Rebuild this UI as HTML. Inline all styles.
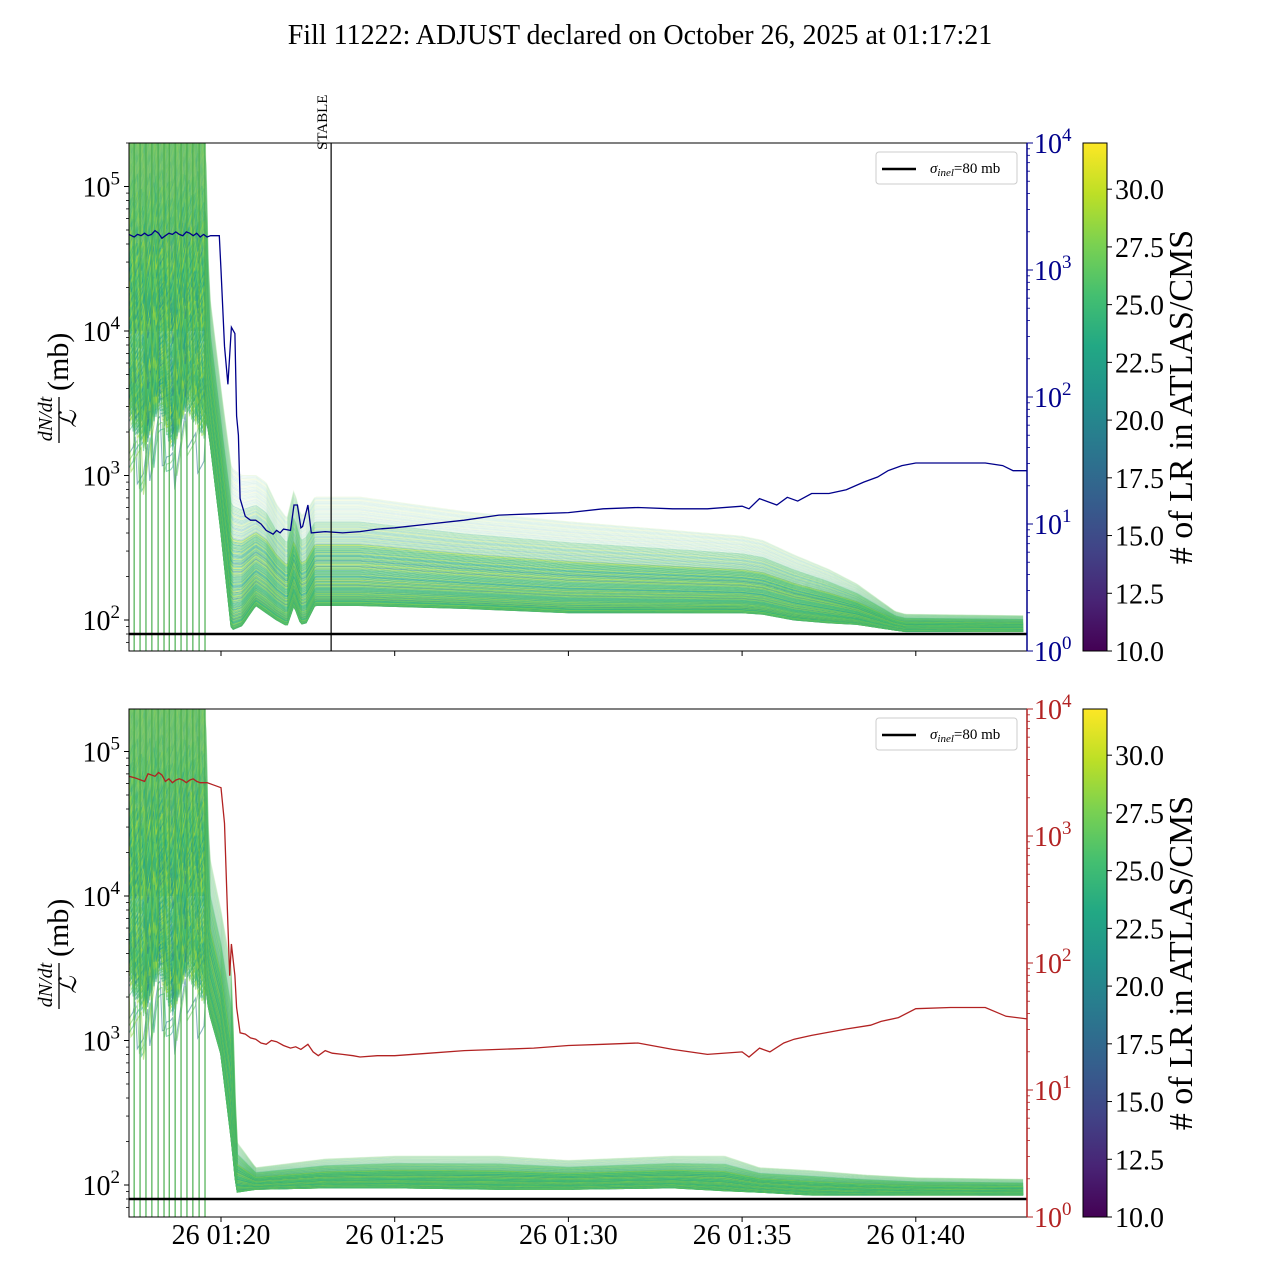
<!DOCTYPE html>
<html><head><meta charset="utf-8">
<style>
html,body{margin:0;padding:0;background:#fff;}
svg{display:block;font-family:"Liberation Serif",serif;}
</style></head>
<body>
<svg id="chart" width="1280" height="1280" viewBox="0 0 1280 1280" xmlns="http://www.w3.org/2000/svg">
<defs>
<linearGradient id="viridis" x1="0" y1="1" x2="0" y2="0">
<stop offset="0" stop-color="#440154"/><stop offset="0.1" stop-color="#482475"/><stop offset="0.2" stop-color="#414487"/><stop offset="0.3" stop-color="#355f8d"/><stop offset="0.4" stop-color="#2a788e"/><stop offset="0.5" stop-color="#21918c"/><stop offset="0.6" stop-color="#22a884"/><stop offset="0.7" stop-color="#44bf70"/><stop offset="0.8" stop-color="#7ad151"/><stop offset="0.9" stop-color="#bddf26"/><stop offset="1" stop-color="#fde725"/>
</linearGradient>
<clipPath id="clipTop"><rect x="129" y="143" width="898" height="508"/></clipPath>
<clipPath id="clipBot"><rect x="129" y="709" width="898" height="508"/></clipPath>
</defs>
<text x="640" y="44" text-anchor="middle" font-size="28">Fill 11222: ADJUST declared on October 26, 2025 at 01:17:21</text>
<g id="layer"></g>
</svg>
<script>
// ---- data (time in minutes relative to 26 01:20) ----
const xTickLabels = ["26 01:20","26 01:25","26 01:30","26 01:35","26 01:40"];
const xTickMinutes = [0,5,10,15,20];
const leftTickExp = [2,3,4,5];
const rightTickExp = [0,1,2,3,4];
const cbarTicks = [10.0,12.5,15.0,17.5,20.0,22.5,25.0,27.5,30.0];
const sigmaInel = 80;
const stableMinute = 3.17;
const fillStartMinute = -2.65;
const fillEndMinute = 23.2;
const earlySpikeMinutes = [-2.5,-2.33,-2.16,-1.99,-1.81,-1.64,-1.49,-1.32,-1.15,-0.98,-0.81,-0.63,-0.46];
// top panel band envelope (log10 mb)
const topBandT  = [-2.65,-2.2,-1.8,-1.4,-1.0,-0.5,-0.45,-0.35,0,0.3,0.6,1.0,1.3,1.6,1.9,2.1,2.3,2.45,2.7,3.0,4.0,7.0,10.0,13.0,15.0,15.6,16.5,17.5,18.3,19.4,19.7,23.0];
const topBandLo = [3.5,3.3,3.6,3.3,3.6,3.4,3.4,3.3,2.6,1.93,1.96,2.1,2.05,2.0,1.96,2.1,1.97,1.98,2.1,2.1,2.1,2.08,2.05,2.05,2.05,2.04,2.0,1.98,1.97,1.93,1.92,1.92];
const topBandHi = [5.4,5.4,5.4,5.4,5.4,5.4,5.4,4.3,3.6,3.05,3.0,3.0,2.95,2.8,2.7,2.9,2.72,2.75,2.85,2.85,2.85,2.75,2.68,2.62,2.58,2.55,2.45,2.35,2.25,2.06,2.04,2.03];
// bottom panel band envelope
const botBandT  = [-2.65,-2.2,-1.8,-1.4,-1.0,-0.5,-0.45,-0.35,0,0.3,0.45,1.0,3.0,5.0,8.0,10.0,13.0,14.5,15.5,17.0,18.5,20.0,23.0];
const botBandLo = [3.5,3.3,3.6,3.3,3.6,3.4,3.4,3.2,2.9,2.3,1.95,1.97,1.98,1.98,1.97,1.97,1.98,1.96,1.95,1.93,1.93,1.93,1.93];
const botBandHi = [5.4,5.4,5.4,5.4,5.4,5.4,5.4,4.3,3.9,3.5,2.3,2.12,2.18,2.2,2.2,2.17,2.2,2.2,2.12,2.1,2.07,2.05,2.04];
// blue line (top, right log axis)
const blueT = [-2.65,-2.5,-2.4,-2.3,-2.2,-2.1,-2.0,-1.9,-1.8,-1.7,-1.6,-1.5,-1.4,-1.3,-1.2,-1.1,-1.0,-0.9,-0.8,-0.7,-0.6,-0.5,-0.4,-0.3,-0.2,-0.05,0.0,0.1,0.2,0.3,0.4,0.45,0.5,0.55,0.7,0.85,1.0,1.15,1.3,1.5,1.6,1.7,1.8,2.0,2.1,2.2,2.3,2.35,2.5,2.6,3.0,3.5,4.0,4.5,5.0,6.0,7.0,8.0,9.0,10.0,11.0,12.0,13.0,14.0,15.0,15.2,15.5,16.0,16.3,16.6,17.0,17.5,18.0,18.5,18.9,19.2,19.6,20.0,21.0,22.0,22.5,22.8,23.2];
const blueV = [3.28,3.26,3.28,3.27,3.29,3.27,3.28,3.31,3.29,3.25,3.27,3.29,3.28,3.30,3.28,3.27,3.30,3.29,3.27,3.29,3.26,3.28,3.26,3.27,3.27,3.27,3.0,2.4,2.1,2.55,2.5,1.85,1.7,1.2,1.06,1.03,1.03,1.0,0.95,0.92,0.95,0.93,0.96,0.95,1.15,1.15,0.97,0.98,1.15,0.93,0.94,0.93,0.94,0.96,0.97,1.0,1.03,1.07,1.08,1.09,1.12,1.13,1.12,1.12,1.14,1.12,1.2,1.15,1.21,1.18,1.24,1.24,1.27,1.33,1.37,1.42,1.46,1.48,1.48,1.48,1.46,1.42,1.42];
// red line (bottom)
const redT = [-2.65,-2.5,-2.4,-2.3,-2.2,-2.1,-2.0,-1.9,-1.8,-1.7,-1.6,-1.5,-1.4,-1.3,-1.2,-1.1,-1.0,-0.9,-0.8,-0.7,-0.6,-0.4,-0.2,0.0,0.1,0.2,0.25,0.3,0.4,0.45,0.55,0.7,0.85,1.0,1.15,1.3,1.45,1.6,1.8,2.0,2.15,2.3,2.5,2.65,2.8,3.0,3.2,3.5,3.8,4.0,4.5,5.0,6.0,7.0,8.0,9.0,10.0,11.0,12.0,13.0,14.0,15.0,15.2,15.5,15.8,16.2,16.5,17.0,18.0,18.7,19.0,19.5,20.0,21.0,22.0,22.6,23.2];
const redV = [3.47,3.46,3.45,3.44,3.43,3.49,3.48,3.47,3.5,3.48,3.43,3.45,3.42,3.44,3.45,3.44,3.42,3.44,3.45,3.43,3.42,3.42,3.4,3.38,3.1,2.3,1.9,2.15,1.9,1.65,1.45,1.44,1.41,1.4,1.37,1.36,1.39,1.38,1.35,1.33,1.34,1.32,1.36,1.30,1.27,1.31,1.29,1.28,1.27,1.26,1.27,1.27,1.29,1.31,1.32,1.33,1.35,1.36,1.37,1.32,1.28,1.30,1.26,1.33,1.30,1.37,1.40,1.43,1.48,1.51,1.54,1.57,1.64,1.65,1.65,1.58,1.56];

// ---- scales ----
const NS='http://www.w3.org/2000/svg';
const layer=document.getElementById('layer');
const X0=221, PXMIN=34.74;
function xs(m){return X0+m*PXMIN;}
const panels=[
 {top:143,bot:651,ref2:620,rc:'#00008b',clip:'clipTop',bT:topBandT,bLo:topBandLo,bHi:topBandHi,lT:blueT,lV:blueV,name:'top'},
 {top:709,bot:1217,ref2:1185,rc:'#b22222',clip:'clipBot',bT:botBandT,bLo:botBandLo,bHi:botBandHi,lT:redT,lV:redV,name:'bottom'}
];
function yl(p,lg){return p.ref2-(lg-2)*144.5;}
function yr(p,lg){return p.bot-lg*127;}
function mk(tag,attrs,parent){const e=document.createElementNS(NS,tag);for(const k in attrs)e.setAttribute(k,attrs[k]);(parent||layer).appendChild(e);return e;}
function interp(T,V,t){if(t<=T[0])return V[0];for(let i=1;i<T.length;i++){if(t<=T[i]){const f=(t-T[i-1])/(T[i]-T[i-1]);return V[i-1]+f*(V[i]-V[i-1]);}}return V[V.length-1];}
const vir=['#440154','#482475','#414487','#355f8d','#2a788e','#21918c','#22a884','#44bf70','#7ad151','#bddf26','#fde725'];
function virColor(f){f=Math.max(0,Math.min(1,f));const i=Math.min(9,Math.floor(f*10));const r=f*10-i;const a=vir[i],b=vir[i+1];const h=s=>[1,3,5].map(k=>parseInt(s.substr(k,2),16));const A=h(a),B=h(b);return 'rgb('+A.map((v,k)=>Math.round(v+(B[k]-v)*r)).join(',')+')';}

panels.forEach((p,pi)=>{
  const g=mk('g',{'clip-path':'url(#'+p.clip+')'});
  
  
  // early dense region fill
  const ef=mk('path',{d:'M129,'+p.top+'L'+xs(-0.45)+','+p.top+'L'+xs(-0.45)+','+yl(p,4.0)+'L129,'+yl(p,4.0)+'Z',fill:'#6cc05a','fill-opacity':0.85},g);
  
  
  // band lines
  const N=160;
  const step=0.06;
  for(let i=0;i<N;i++){
    const u=i/(N-1);
    const f=Math.pow(u,1.6);
    const cidx=0.55+0.33*(((i*37)%23)/22)-(i%7===0?0.15:0);
    let d='';
    for(let t=fillStartMinute;t<=fillEndMinute-0.1;t+=step){
      let lo=interp(p.bT,p.bLo,t),hi=interp(p.bT,p.bHi,t);
      let v=lo+f*(hi-lo);
      if(t<-0.45){v+= (((i*13+Math.round(t*20))%7)-3)*0.05;}
      d+=(d?'L':'M')+xs(t).toFixed(1)+','+yl(p,v).toFixed(1);
    }
    const pa=mk('path',{d:d,fill:'none',stroke:virColor(cidx),'stroke-width':1.1,'stroke-opacity':(u>0.85?0.12:(u>0.7?0.3:0.55))},g);
    
    
  }
  earlySpikeMinutes.forEach(m=>{
    const l=mk('line',{x1:xs(m),x2:xs(m),y1:p.top,y2:p.bot,stroke:'#4caf50','stroke-width':1.2},g);
    
    
  });
  const sy=yl(p,Math.log10(sigmaInel));
  const sl=mk('line',{x1:129,x2:1027,y1:sy,y2:sy,stroke:'#000','stroke-width':2.5},g);
  
  
  let d='';
  p.lT.forEach((t,k)=>{d+=(k?'L':'M')+xs(t).toFixed(1)+','+yr(p,p.lV[k]).toFixed(1);});
  const rl=mk('path',{d:d,fill:'none',stroke:p.rc,'stroke-width':1.3},g);
  
  
  if(pi===0){
    const stx=xs(stableMinute);
    const s=mk('line',{x1:stx,x2:stx,y1:p.top,y2:p.bot,stroke:'#000','stroke-width':1.2});
    
    
    const st=mk('text',{x:0,y:0,'font-size':15,transform:'translate('+(stx-4)+',150) rotate(-90)'});
    st.textContent='STABLE';
    
    
  }
  const fr=mk('rect',{x:129,y:p.top,width:898,height:p.bot-p.top,fill:'none',stroke:'#000','stroke-width':1});
  
  
  const rs=mk('line',{x1:1027,x2:1027,y1:p.top,y2:p.bot,stroke:p.rc,'stroke-width':1.5});
  
  
  leftTickExp.forEach(e=>{
    const y=yl(p,e);
    mk('line',{x1:124,x2:129,y1:y,y2:y,stroke:'#000'});
    const t=mk('text',{x:120,y:y+10,'text-anchor':'end','font-size':28});
    t.innerHTML='10<tspan dy="-12" font-size="19">'+e+'</tspan>';
    
    
    for(let k=2;k<10;k++){const ym=yl(p,e+Math.log10(k));if(ym>p.top&&ym<p.bot)mk('line',{x1:126,x2:129,y1:ym,y2:ym,stroke:'#000','stroke-width':0.8});}
  });
  [Math.log10(60),Math.log10(70),Math.log10(80),Math.log10(90)].forEach(v=>{const ym=yl(p,v);if(ym<p.bot)mk('line',{x1:126,x2:129,y1:ym,y2:ym,stroke:'#000','stroke-width':0.8});});
  rightTickExp.forEach(e=>{
    const y=yr(p,e);
    mk('line',{x1:1027,x2:1033,y1:y,y2:y,stroke:p.rc});
    const t=mk('text',{x:1034,y:y+10,'font-size':28,fill:p.rc});
    t.innerHTML='10<tspan dy="-12" font-size="19">'+e+'</tspan>';
    
    
    if(e<4)for(let k=2;k<10;k++){const ym=yr(p,e+Math.log10(k));mk('line',{x1:1027,x2:1030,y1:ym,y2:ym,stroke:p.rc,'stroke-width':0.8});}
  });
  xTickMinutes.forEach((m,k)=>{
    const x=xs(m);
    mk('line',{x1:x,x2:x,y1:p.bot,y2:p.bot+5,stroke:'#000'});
    if(pi===1){const t=mk('text',{x:x,y:1244,'text-anchor':'middle','font-size':28});t.textContent=xTickLabels[k];
      
      }
  });
  const cy=(p.top+p.bot)/2;
  const yg=mk('g',{transform:'translate(60,'+cy+') rotate(-90)'});
  
  
  mk('text',{x:-22,y:-8,'text-anchor':'middle','font-size':20,'font-style':'italic'},yg).textContent='dN/dt';
  mk('line',{x1:-46,x2:0,y1:-1,y2:-1,stroke:'#000','stroke-width':1.3},yg);
  mk('text',{x:-22,y:16,'text-anchor':'middle','font-size':24,'font-style':'italic'},yg).textContent='ℒ';
  mk('text',{x:6,y:8,'font-size':30},yg).textContent='(mb)';
  const lg=mk('g',{});
  
  
  mk('rect',{x:876,y:p.top+9,width:141,height:32,rx:3,fill:'#fff',stroke:'#ccc'},lg);
  mk('line',{x1:882,x2:916,y1:p.top+26,y2:p.top+26,stroke:'#000','stroke-width':2.5},lg);
  const lt=mk('text',{x:930,y:p.top+30,'font-size':15},lg);
  lt.innerHTML='<tspan font-style="italic">σ</tspan><tspan font-size="11" dy="3" font-style="italic">inel</tspan><tspan dy="-3">=80 mb</tspan>';
  const cb=mk('rect',{x:1083,y:p.top,width:24,height:p.bot-p.top,fill:'url(#viridis)',stroke:'#000','stroke-width':1});
  
  
  const cs=(p.bot-p.top)/22;
  cbarTicks.forEach(v=>{
    const y=p.bot-(v-10)*cs;
    mk('line',{x1:1107,x2:1112,y1:y,y2:y,stroke:'#000'});
    const t=mk('text',{x:1115,y:y+10,'font-size':28});t.textContent=v.toFixed(1);
    
    
  });
  const ct=mk('text',{x:0,y:0,'text-anchor':'middle','font-size':34,transform:'translate(1192,'+cy+') rotate(-90)'});
  ct.textContent='# of LR in ATLAS/CMS';
  
  
});
</script>
</body></html>
